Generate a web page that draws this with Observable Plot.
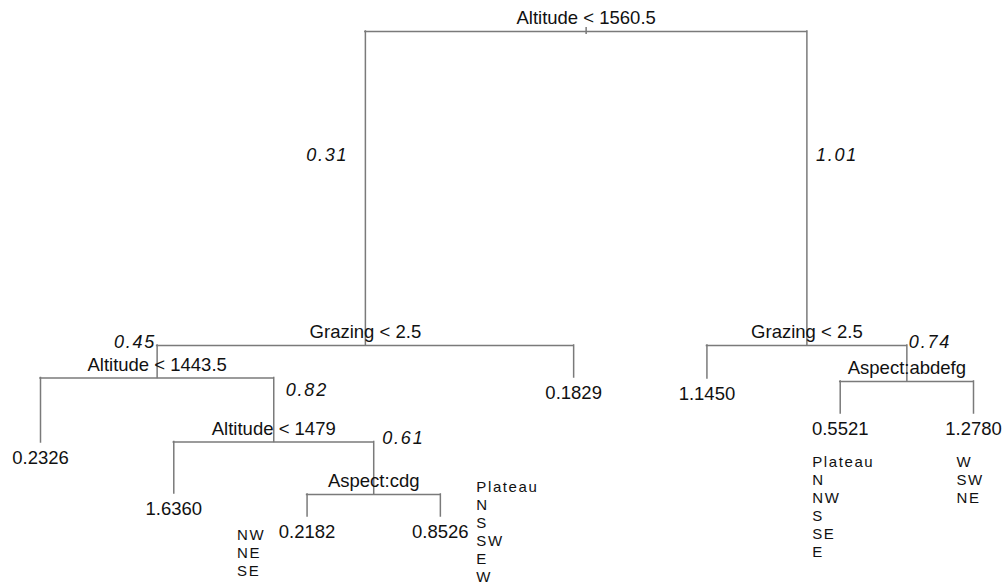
<!DOCTYPE html>
<html>
<head>
<meta charset="utf-8">
<script src="https://cdn.jsdelivr.net/npm/d3@7"></script>
<script src="https://cdn.jsdelivr.net/npm/@observablehq/plot@0.6"></script>
<style>
  html, body { margin: 0; padding: 0; background: #fff; }
  #chart svg { display: block; }
  g[aria-description="node mean"] text { letter-spacing: 1.8px; }
  g[aria-description="aspect levels"] text { letter-spacing: 1.6px; }
</style>
</head>
<body>
<div id="chart"></div>
<script>
// Regression tree: split nodes (internal) with their rule, parent, deviance and mean
const splitNode     = ["root", "grazeLo", "grazeHi", "alt1443", "alt1479", "aspCdg", "aspAbdefg"];
const splitRule     = ["Altitude < 1560.5", "Grazing < 2.5", "Grazing < 2.5", "Altitude < 1443.5", "Altitude < 1479", "Aspect:cdg", "Aspect:abdefg"];
const splitParent   = [null, "root", "root", "grazeLo", "alt1443", "alt1479", "grazeHi"];
const splitDeviance = [50.0, 18.6, 18.6, 15.35, 8.95, 3.7, 15.0];
const splitMean     = [null, 0.31, 1.01, 0.45, 0.82, 0.61, 0.74];

// Terminal nodes, left to right
const leafParent   = ["alt1443", "alt1479", "aspCdg", "aspCdg", "grazeLo", "grazeHi", "aspAbdefg", "aspAbdefg"];
const leafValue    = [0.2326, 1.6360, 0.2182, 0.8526, 0.1829, 1.1450, 0.5521, 1.2780];
const leafDeviance = [8.9, 3.8, 1.5, 1.5, 15.4, 15.3, 11.8, 11.8];
const leafAspects  = [
  [], [],
  ["NW", "NE", "SE"],
  ["Plateau", "N", "S", "SW", "E", "W"],
  [], [],
  ["Plateau", "N", "NW", "S", "SE", "E"],
  ["W", "SW", "NE"]
];

// Build the node table and lay it out: leaves sit at their order, splits midway between children
const nodes = new Map();
splitNode.forEach((id, i) => nodes.set(id, {
  id, leaf: false, label: splitRule[i], parent: splitParent[i],
  dev: splitDeviance[i], mean: splitMean[i], children: []
}));
const leaves = leafValue.map((v, i) => ({
  id: "leaf" + i, leaf: true, value: v, parent: leafParent[i],
  dev: leafDeviance[i], aspects: leafAspects[i], order: i, x: i
}));
leaves.forEach(l => nodes.set(l.id, l));
for (const n of nodes.values()) if (n.parent) nodes.get(n.parent).children.push(n);

function place(n) {
  if (n.leaf) return n.x;
  const xs = n.children.map(place);
  n.x = (d3.min(xs) + d3.max(xs)) / 2;
  return n.x;
}
place(nodes.get("root"));

const splits = splitNode.map(id => nodes.get(id));
const all = [...nodes.values()];
const branches = all.filter(n => n.parent).map(n => ({x: n.x, y1: nodes.get(n.parent).dev, y2: n.dev}));
const crossbars = splits.map(n => ({y: n.dev, x1: d3.min(n.children, c => c.x), x2: d3.max(n.children, c => c.x)}));
const rootNode = nodes.get("root");

// Where each node mean is written beside its branch
const meanPlacement = {
  grazeLo:   {anchor: "end",   dx: -17, dy: 129},
  grazeHi:   {anchor: "start", dx: 9,   dy: 129},
  alt1443:   {anchor: "end",   dx: -1,  dy: 2},
  alt1479:   {anchor: "start", dx: 12,  dy: 17.5},
  aspCdg:    {anchor: "start", dx: 8.5, dy: 1.5},
  aspAbdefg: {anchor: "start", dx: 2,   dy: 2}
};
// Where the aspect levels of a leaf are listed, relative to its value label
const aspectPlacement = {
  2: {dx: -70, dy: 0},
  3: {dx: 36,  dy: -48},
  6: {dx: -28, dy: 29.5},
  7: {dx: -17, dy: 29.5}
};

const font = "'Liberation Sans', Arial, Helvetica, sans-serif";
const ink = "#111";
const branchColor = "#7a7a7a";
const leafLabelDrop = 21.5;
const listSize = 15;

const meanMarks = splits.filter(n => n.mean != null).map(n => {
  const p = meanPlacement[n.id];
  return Plot.text([n], {
    x: "x", y: d => nodes.get(d.parent).dev, text: d => d.mean.toFixed(2),
    textAnchor: p.anchor, lineAnchor: "bottom", dx: p.dx, dy: p.dy,
    fontSize: 18, fontStyle: "italic", fontFamily: font, fill: ink, ariaDescription: "node mean"
  });
});

const aspectMarks = leaves.filter(l => l.aspects.length).map(l => {
  const p = aspectPlacement[l.order];
  return Plot.text([l], {
    x: "x", y: "dev", text: d => d.aspects.join("\n"),
    textAnchor: "start", lineAnchor: "top", lineHeight: 18 / listSize,
    dx: p.dx, dy: leafLabelDrop + p.dy - 0.71 * listSize,
    fontSize: listSize, fontFamily: font, fill: ink, ariaDescription: "aspect levels"
  });
});

const chart = Plot.plot({
  width: 1003,
  height: 585,
  marginTop: 31,
  marginBottom: 54,
  marginLeft: 40,
  marginRight: 30,
  x: {domain: [0, leafValue.length - 1], axis: null},
  y: {domain: [0, 50], axis: null},
  style: {background: "#fff", fontFamily: font},
  marks: [
    Plot.ruleX([rootNode], {x: "x", y1: d => d.dev + 0.4, y2: d => d.dev - 0.3, stroke: branchColor, strokeWidth: 1.5}),
    Plot.ruleX(branches, {x: "x", y1: "y1", y2: "y2", stroke: branchColor, strokeWidth: 1.5, strokeLinecap: "square"}),
    Plot.ruleY(crossbars, {y: "y", x1: "x1", x2: "x2", stroke: branchColor, strokeWidth: 1.5, strokeLinecap: "square"}),
    Plot.text(splits, {
      x: "x", y: "dev", text: "label", lineAnchor: "bottom", dy: -7.5,
      fontSize: 18.5, fontFamily: font, fill: ink
    }),
    Plot.text(leaves, {
      x: "x", y: "dev", text: d => d.value.toFixed(4), lineAnchor: "bottom", dy: leafLabelDrop,
      fontSize: 18.5, fontFamily: font, fill: ink
    }),
    ...meanMarks,
    ...aspectMarks
  ]
});

document.getElementById("chart").appendChild(chart);
</script>
</body>
</html>
